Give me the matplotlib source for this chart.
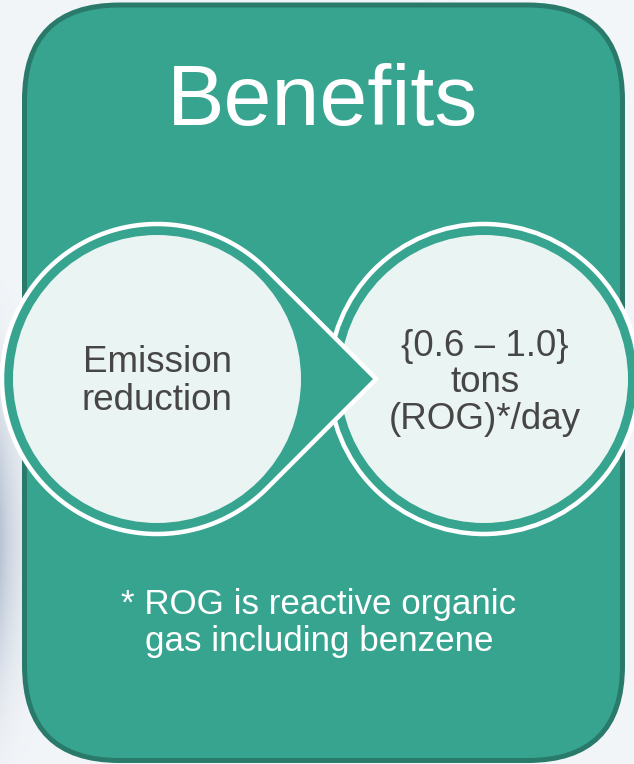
import numpy as np
import matplotlib
matplotlib.use("Agg")
from matplotlib import pyplot as plt
from matplotlib.patches import FancyBboxPatch, Circle, Polygon

# Text content
title = "Benefits"
left_lines = ["Emission", "reduction"]
right_lines = ["{0.6 \u2013 1.0}", "tons", "(ROG)*/day"]
note_lines = ["* ROG is reactive organic", "gas including benzene"]

# Colours
TEAL = "#37a490"
TEAL_DARK = "#2a7a6b"
LIGHT = "#eaf4f2"
TEXT_GRAY = "#464646"

W, H = 634, 764
PX = 0.72  # points per pixel at dpi 100

plt.rcParams['font.family'] = ['Liberation Sans', 'DejaVu Sans']

fig = plt.figure(figsize=(W / 100, H / 100), dpi=100)
ax = fig.add_axes([0, 0, 1, 1])
ax.set_xlim(0, W)
ax.set_ylim(H, 0)
ax.axis('off')

# background: pale slide with a soft shadow on the left
xx, yy = np.meshgrid(np.arange(W), np.arange(H))
shade = np.exp(-xx / 20.0) * np.exp(-((yy - 540) / 140.0) ** 2)
base = np.array([243, 246, 249]) / 255.0
dark = np.array([185, 196, 212]) / 255.0
bg = base[None, None, :] * (1 - shade[..., None]) + dark[None, None, :] * shade[..., None]
ax.imshow(bg, extent=(0, W, H, 0), zorder=0, interpolation='bilinear')

# rounded panel
box = FancyBboxPatch((24.5, 5), 598, 755.5,
                     boxstyle="round,pad=0,rounding_size=95",
                     facecolor=TEAL, edgecolor=TEAL_DARK, linewidth=5 * PX, zorder=1)
ax.add_patch(box)

ax.text(323, 125, title, color="white", fontsize=62, ha='center', va='baseline', zorder=5)

# right circle
R_OUT, R_IN = 155, 144
cy = 379
rcx, lcx = 484, 157
ax.add_patch(Circle((rcx, cy), R_OUT, facecolor=TEAL, edgecolor="white",
                    linewidth=4.5 * PX, zorder=2))
ax.add_patch(Circle((rcx, cy), R_IN, facecolor=LIGHT, edgecolor="none", zorder=2.5))

# left teardrop pointing right
t = np.radians(np.linspace(45, 315, 200))
pts = np.column_stack([lcx + R_OUT * np.cos(t), cy + R_OUT * np.sin(t)])
pts = np.vstack([pts, [lcx + R_OUT * np.sqrt(2), cy]])
ax.add_patch(Polygon(pts, closed=True, facecolor=TEAL, edgecolor="white",
                     linewidth=4.5 * PX, joinstyle='miter', zorder=3))
ax.add_patch(Circle((lcx, cy), R_IN, facecolor=LIGHT, edgecolor="none", zorder=3.5))

# labels
for i, s in enumerate(left_lines):
    ax.text(lcx, 372 + i * 38, s, color=TEXT_GRAY, fontsize=26.5,
            ha='center', va='baseline', zorder=5)
for i, s in enumerate(right_lines):
    ax.text(485, 356 + i * 36.5, s, color=TEXT_GRAY, fontsize=26.5,
            ha='center', va='baseline', zorder=5)
for i, s in enumerate(note_lines):
    ax.text(319, 614 + i * 36.5, s, color="white", fontsize=25.2,
            ha='center', va='baseline', zorder=5)

fig.savefig("out.png", dpi=100)
